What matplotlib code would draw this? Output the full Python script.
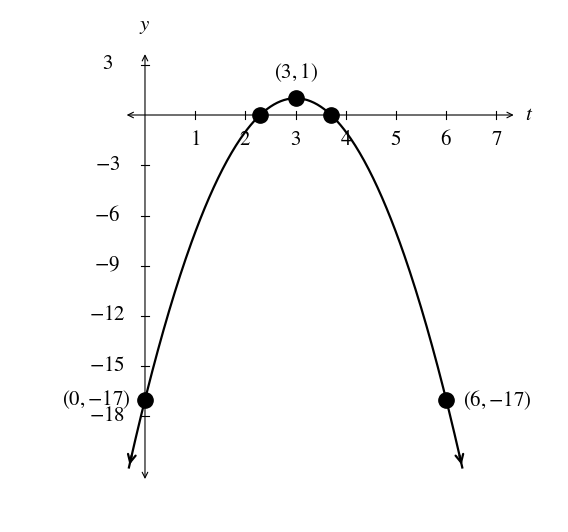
import numpy as np
import matplotlib.pyplot as plt

plt.rcParams['font.family'] = ['Liberation Serif', 'DejaVu Serif']
plt.rcParams['mathtext.fontset'] = 'stix'

# data
x_ticks = [1, 2, 3, 4, 5, 6, 7]
y_ticks = [3, -3, -6, -9, -12, -15, -18]
pts_t = [0, 2.293, 3, 3.707, 6]
pts_y = [-17, 0, 1, 0, -17]
labels = [r'$(3,1)$', r'$(0,{-}17)$', r'$(6,{-}17)$']

fig = plt.figure(figsize=(5.68, 5.32), dpi=100)
ax = fig.add_axes([0, 0, 1, 1])
ax.set_xlim(-2.888, 8.426)
ax.set_ylim(-24.896, 6.866)
ax.axis('off')

arr = dict(arrowstyle='<->', lw=0.8, color='black', mutation_scale=10)
ax.annotate('', xy=(7.4, 0), xytext=(-0.42, 0), arrowprops=arr)
ax.annotate('', xy=(0, 3.8), xytext=(0, -21.9), arrowprops=arr)

# ticks
for t in x_ticks:
    ax.plot([t, t], [-0.25, 0.25], color='black', lw=0.8)
    ax.text(t, -1.5, r'$%d$' % t, ha='center', va='center', fontsize=15)
for v in y_ticks:
    ax.plot([-0.08, 0.08], [v, v], color='black', lw=0.8)
    ax.text(-0.75, v, r'$%d$' % v, ha='center', va='center', fontsize=15)

ax.text(0, 5.3, r'$y$', ha='center', va='center', fontsize=15)
ax.text(7.66, 0, r'$t$', ha='center', va='center', fontsize=15)

# curve
t = np.linspace(-0.32, 6.32, 300)
y = -2 * (t - 3) ** 2 + 1
ax.plot(t, y, color='black', lw=1.6)
ax.annotate('', xy=(t[0], y[0]), xytext=(t[3], y[3]),
            arrowprops=dict(arrowstyle='->', lw=1.6, color='black', mutation_scale=14))
ax.annotate('', xy=(t[-1], y[-1]), xytext=(t[-4], y[-4]),
            arrowprops=dict(arrowstyle='->', lw=1.6, color='black', mutation_scale=14))

ax.plot(pts_t, pts_y, 'o', color='black', markersize=11, zorder=5)

ax.text(3, 2.55, labels[0], ha='center', va='center', fontsize=15)
ax.text(-0.28, -17, labels[1], ha='right', va='center', fontsize=15)
ax.text(6.33, -17, labels[2], ha='left', va='center', fontsize=15)

fig.savefig('out.png', dpi=100)
